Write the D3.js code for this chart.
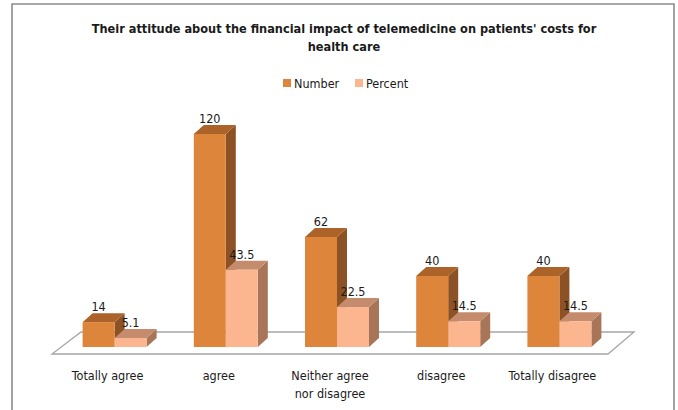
<!DOCTYPE html>
<html>
<head>
<meta charset="utf-8">
<script src="https://cdn.jsdelivr.net/npm/d3@7"></script>
<style>
  html, body { margin: 0; padding: 0; background: #fff; }
  svg { display: block; }
  text { font-family: "Liberation Sans Narrow", "DejaVu Sans Condensed", "Open Sans", sans-serif; fill: #1a1a1a; }
</style>
</head>
<body>
<svg id="chart" width="678" height="410"></svg>
<script>
// Survey responses, count and share
const categories = ["Totally agree", "agree", "Neither agree\nnor disagree", "disagree", "Totally disagree"];
const numberValues = [14, 120, 62, 40, 40];
const percentValues = [5.1, 43.5, 22.5, 14.5, 14.5];
const seriesNames = ["Number", "Percent"];
const titleLines = ["Their attitude about  the financial impact of telemedicine on patients' costs for", "health care"];

const W = 678, H = 410;
const svg = d3.select("#chart");

// Outer frame (left, top, right edges)
svg.append("path")
  .attr("d", "M12,410 L12,4 L674,4 L674,410")
  .attr("fill", "none").attr("stroke", "#8c8c8c").attr("stroke-width", 1.6);

// Title
const title = svg.append("g");
titleLines.forEach((line, i) => {
  title.append("text")
    .attr("x", 344).attr("y", 33 + i * 18)
    .attr("text-anchor", "middle")
    .attr("font-size", 14).attr("font-weight", "bold")
    .text(line);
});
// fit first title line to its width
(function fitTitle() {
  const t = title.select("text").node();
  const w = t.getComputedTextLength();
  const target = 505;
  const fs = 14 * target / w;
  const size = Math.max(12, Math.min(16, fs));
  title.selectAll("text").attr("font-size", size);
})();

// Geometry of the floor (oblique projection)
const floorFrontY = 354, floorBackY = 332;
const floorLeft = 52, floorRight = 608;
const depthLeft = 29, depthRight = 26;

const x = d3.scaleBand().domain(categories).range([floorLeft, floorRight]).paddingInner(0).paddingOuter(0);
const y = d3.scaleLinear().domain([0, 120]).range([347, 134]);
const series = d3.scaleBand().domain(seriesNames).range([-32, 32]);

const barShift = 7;      // horizontal shift of bar row at its depth on the floor
const bdx = 10, bdy = -9; // depth of each bar

const colors = {
  Number: { front: "#dd853b", top: "#ab6329", side: "#8c5226" },
  Percent: { front: "#fbb68f", top: "#c48c6d", side: "#a87559" }
};

// Floor
svg.append("path")
  .attr("d", `M${floorLeft},${floorFrontY} L${floorRight},${floorFrontY} L${floorRight + depthRight},${floorBackY} L${floorLeft + depthLeft},${floorBackY} Z`)
  .attr("fill", "#fff").attr("stroke", "#a6a6a6").attr("stroke-width", 1.3);

// Bars
const rows = categories.map((c, i) => ({
  cat: c,
  vals: [{ s: "Number", v: numberValues[i] }, { s: "Percent", v: percentValues[i] }]
}));

const barsG = svg.append("g");
rows.forEach(r => {
  const cx = x(r.cat) + x.bandwidth() / 2 + barShift;
  r.vals.forEach(d => {
    const x0 = cx + series(d.s), x1 = x0 + series.bandwidth();
    const y0 = y(0), y1 = y(d.v);
    const c = colors[d.s];
    const g = barsG.append("g");
    // side face
    g.append("path")
      .attr("d", `M${x1},${y1} L${x1 + bdx},${y1 + bdy} L${x1 + bdx},${y0 + bdy} L${x1},${y0} Z`)
      .attr("fill", c.side);
    // top face
    g.append("path")
      .attr("d", `M${x0},${y1} L${x0 + bdx},${y1 + bdy} L${x1 + bdx},${y1 + bdy} L${x1},${y1} Z`)
      .attr("fill", c.top);
    // front face
    g.append("rect")
      .attr("x", x0).attr("y", y1)
      .attr("width", x1 - x0).attr("height", y0 - y1)
      .attr("fill", c.front);
    d.lx = (x0 + x1) / 2;
    d.ly = y1 - 11;
  });
});

// Value labels
rows.forEach(r => {
  r.vals.forEach(d => {
    svg.append("text")
      .attr("x", d.lx).attr("y", d.ly)
      .attr("text-anchor", "middle")
      .attr("font-size", 12.5)
      .text(d.v);
  });
});

// Category labels
categories.forEach(c => {
  const lines = c.split("\n");
  const t = svg.append("text")
    .attr("text-anchor", "middle")
    .attr("font-size", 12.5);
  lines.forEach((l, i) => {
    t.append("tspan")
      .attr("x", x(c) + x.bandwidth() / 2)
      .attr("y", 380 + i * 18)
      .text(l);
  });
});

// Legend
const legend = svg.append("g");
const legendItems = [{ s: "Number", x: 283 }, { s: "Percent", x: 355 }];
legendItems.forEach(it => {
  legend.append("rect")
    .attr("x", it.x).attr("y", 79).attr("width", 8).attr("height", 8)
    .attr("fill", colors[it.s].front);
  legend.append("text")
    .attr("x", it.x + 11).attr("y", 88)
    .attr("font-size", 12.5)
    .text(it.s);
});
</script>
</body>
</html>
